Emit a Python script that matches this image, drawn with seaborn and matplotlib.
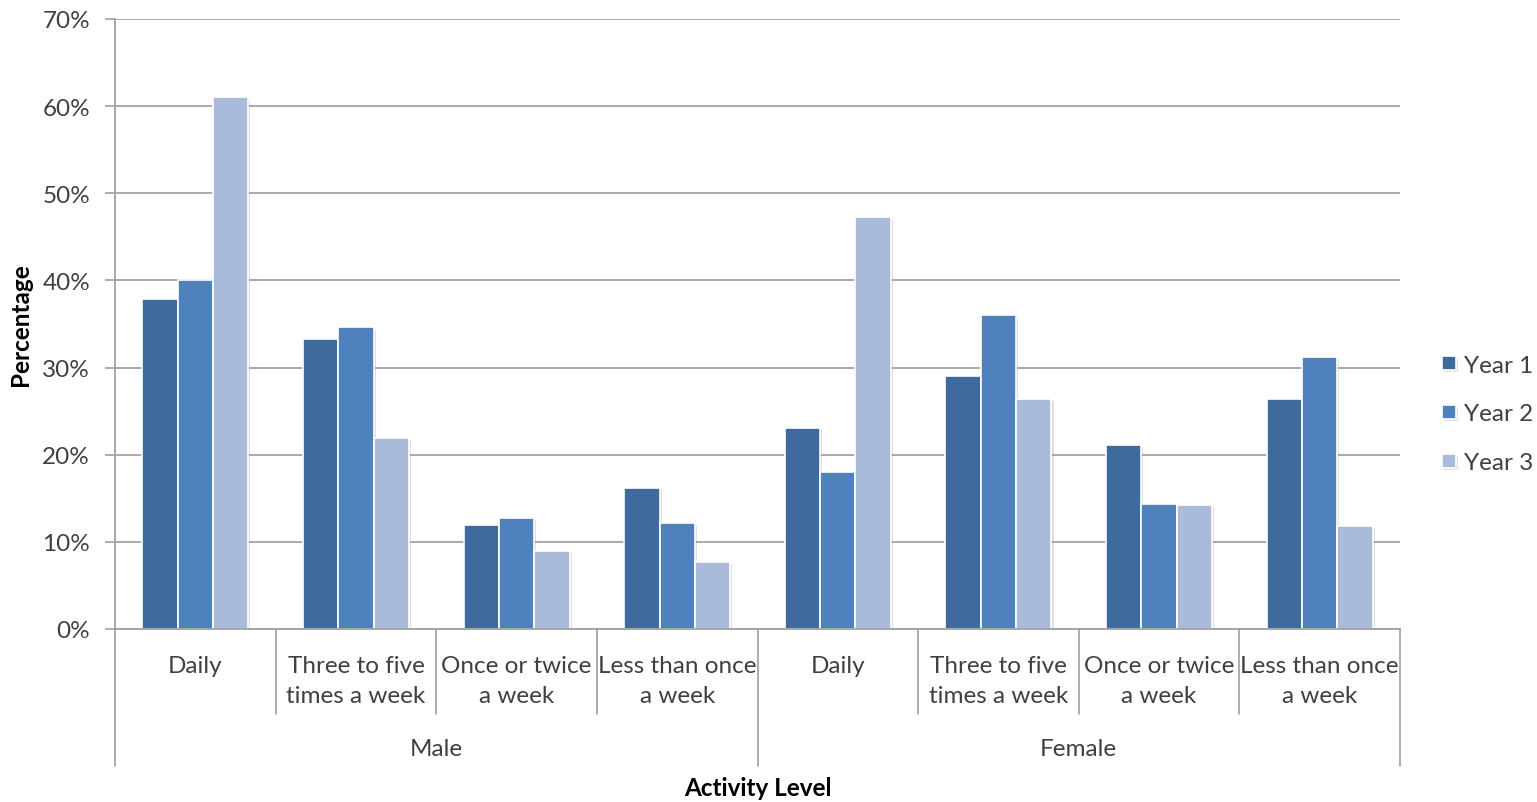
import pandas as pd
import numpy as np
import matplotlib
matplotlib.use("Agg")
import matplotlib.pyplot as plt
import matplotlib.patheffects as pe
import seaborn as sns

# chart values (percent), Male categories first then Female
genders = ["Male", "Female"]
levels = ["Daily", "Three to five\ntimes a week", "Once or twice\na week", "Less than once\na week"]
years = ["Year 1", "Year 2", "Year 3"]
year1 = [37.9, 33.3, 11.9, 16.2, 23.1, 29.0, 21.1, 26.4]
year2 = [40.0, 34.6, 12.7, 12.2, 18.0, 36.0, 14.3, 31.2]
year3 = [61.0, 21.9, 9.0, 7.7, 47.3, 26.4, 14.2, 11.8]
colors = ["#3F6A9C", "#4F81BD", "#AABADA"]

# long-form table for seaborn
keys = [g + "|" + l for g in genders for l in levels]
rows = []
for yr, vals in zip(years, [year1, year2, year3]):
    for k, v in zip(keys, vals):
        rows.append({"cat": k, "Year": yr, "pct": v})
df = pd.DataFrame(rows)

sns.set_style("white")
plt.rcParams["font.family"] = ["Lato", "DejaVu Sans"]
fs = 17.5

fig = plt.figure(figsize=(15.37, 8.03), dpi=100)
ax = fig.add_axes([115 / 1537, 1 - 630 / 803, 1285 / 1537, 610 / 803])

sns.barplot(data=df, x="cat", y="pct", hue="Year", order=keys, hue_order=years,
            palette=colors, width=0.66, saturation=1, edgecolor="white",
            linewidth=1.2, ax=ax, legend=True)
for p in ax.patches:
    p.set_path_effects([pe.SimplePatchShadow(offset=(1.5, -1.5), shadow_rgbFace="#999999", alpha=0.3), pe.Normal()])

ax.set_xlim(-0.5, len(keys) - 0.5)
ax.set_ylim(0, 70)
ax.set_yticks(np.arange(0, 71, 10))
ax.set_yticklabels([f"{t}%" for t in range(0, 71, 10)], fontsize=fs, color="#404040")
ax.yaxis.grid(True, color="#a3a3a3", linewidth=1.3)
ax.set_axisbelow(True)
ax.tick_params(axis="y", left=True, length=7, width=1.2, color="#a0a0a0", pad=11)
for s in ["top", "right"]:
    ax.spines[s].set_visible(False)
for s in ["left", "bottom"]:
    ax.spines[s].set_color("#a0a0a0")
    ax.spines[s].set_linewidth(1.3)

# category labels and separators
ax.set_xticks(range(len(keys)))
ax.set_xticklabels(levels * 2, fontsize=fs, color="#404040", linespacing=1.55, va="top")
ax.tick_params(axis="x", bottom=False, pad=15)
trans = ax.get_xaxis_transform()
for i in range(1, len(keys)):
    x = i - 0.5
    if i % len(levels) == 0:
        continue
    ax.plot([x, x], [0, -85 / 610], transform=trans, color="#a0a0a0", lw=1.2, clip_on=False)
for j in range(len(genders) + 1):
    x = j * len(levels) - 0.5
    ax.plot([x, x], [0, -137 / 610], transform=trans, color="#a0a0a0", lw=1.2, clip_on=False)
for j, g in enumerate(genders):
    ax.text(j * len(levels) + (len(levels) - 1) / 2, -119 / 610, g, transform=trans,
            ha="center", va="center", fontsize=fs, color="#404040")

ax.set_xlabel("")
ax.set_ylabel("")
ax.text(0.5, -158 / 610, "Activity Level", transform=ax.transAxes, ha="center", va="center",
        fontsize=fs, fontweight="bold", color="black")
fig.text(20 / 1537, 1 - 325 / 803, "Percentage", rotation=90, ha="center", va="center",
         fontsize=fs, fontweight="bold", color="black")

leg = ax.legend(loc="center left", bbox_to_anchor=(1315 / 1285, 215 / 610), frameon=False,
                fontsize=fs, handlelength=0.55, handleheight=0.55, handletextpad=0.35,
                labelspacing=1.15, labelcolor="#404040", borderpad=0)

fig.savefig("out.png", dpi=100)
